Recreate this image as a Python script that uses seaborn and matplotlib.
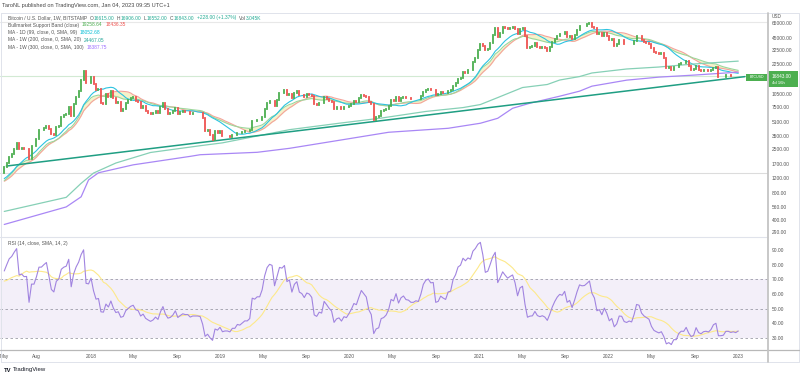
import numpy as np
import pandas as pd
import matplotlib
matplotlib.use("Agg")
import matplotlib.pyplot as plt
from matplotlib.lines import Line2D
from matplotlib.patches import Rectangle
from matplotlib.ticker import NullLocator
import seaborn as sns

# ========== DATA ==========
# weekly closes, BITSTAMP, candles start on Monday
# a few weeks before the visible range, only used to warm up the MAs / RSI
warmup_closes = [770, 775, 790, 890, 1000, 900, 820, 920, 920, 1020, 1000, 1050,
                 1180, 1270, 1240, 1020, 970, 1100, 1200, 1180, 1250, 1350]
closes_2017 = [1560, 1770, 2050, 2190, 2520, 2950, 2500, 2550, 2500, 2510, 1930, 2750,
               2750, 3220, 4070, 4080, 4350, 4600, 4200, 3700, 3600, 4400, 4600, 5700,
               6000, 6150, 7400, 5900, 8000, 9700, 11250, 15000, 19100, 13900, 13800]
closes_2018 = [16200, 13600, 11600, 11800, 8200, 8100, 10400, 9600, 11400, 9500, 8200,
               8400, 6800, 7000, 8350, 8900, 9400, 9650, 8700, 8500, 7350, 7700, 6800,
               6450, 6150, 6350, 6750, 6350, 7400, 8200, 7000, 6300, 6400, 6700, 7250,
               6250, 6500, 6700, 6600, 6600, 6300, 6400, 6400, 6400, 6350, 5600, 4000,
               4150, 3600, 3200, 4000, 3850, 4050]
closes_2019 = [3500, 3550, 3550, 3450, 3650, 3650, 3850, 3800, 3900, 4000, 4000, 4100,
               5200, 5150, 5300, 5300, 5750, 7000, 8200, 8800, 8750, 7650, 8950, 10850,
               10800, 11450, 10250, 10550, 9500, 10800, 11300, 10300, 10150, 9750, 10400,
               10300, 10000, 8050, 7850, 8300, 8200, 9550, 9200, 8800, 8500, 7050, 7400,
               7500, 7100, 7500, 7400, 7750]
closes_2020 = [8150, 8700, 8600, 9350, 10150, 9900, 9650, 8550, 8050, 5350, 5800, 5900,
               6800, 6900, 7150, 7700, 8900, 8750, 9700, 8750, 9450, 9700, 9350, 9300,
               9100, 9100, 9250, 9200, 9900, 11100, 11700, 11900, 11650, 11700, 10250,
               10350, 10900, 10750, 10650, 11400, 11500, 13000, 13800, 15500, 16000, 18400,
               18200, 19350, 19250, 23800, 26400, 33000]
closes_2021 = [38200, 36000, 32300, 33100, 38900, 48600, 57500, 45200, 51000, 59000, 57300,
               55800, 57900, 59700, 56000, 49000, 56500, 58200, 46400, 34700, 35600, 35800,
               39100, 35600, 34700, 35300, 34300, 31800, 35400, 39900, 43800, 47100, 49300,
               48800, 51800, 46000, 47300, 43200, 48200, 54900, 61500, 61000, 61300, 63300,
               65500, 59700, 57200, 49400, 50100, 46700, 50800, 47300]
closes_2022 = [41800, 43100, 36300, 37900, 42400, 42200, 38400, 37700, 38400, 37800, 41300,
               46800, 46400, 42100, 40400, 39400, 38500, 34100, 31300, 30300, 29500, 29900,
               26600, 20600, 21000, 19300, 20800, 20800, 22600, 23300, 23200, 24300, 21500,
               19500, 19800, 21800, 19400, 18800, 19300, 19400, 19100, 19600, 20600, 20900,
               16300, 16300, 16400, 17100, 17100, 16750, 16850, 16615]
closes_2023 = [16843]

# long MAs (they need history from long before the visible range)
ma200_dates = ["2017-05-01", "2017-10-23", "2017-12-04", "2018-01-08", "2018-03-12",
               "2018-06-18", "2018-11-05", "2019-01-07", "2019-07-15", "2019-12-02",
               "2020-03-30", "2020-08-03", "2020-11-16", "2021-01-04", "2021-02-22",
               "2021-04-05", "2021-05-03", "2021-07-12", "2021-08-16", "2021-10-11",
               "2021-11-15", "2022-02-21", "2022-05-23", "2022-08-29", "2023-01-02"]
ma200_vals = [500, 720, 1035, 1350, 1750, 2300, 2740, 2950, 4150, 4900, 5600, 6650, 7350,
              7950, 9520, 11130, 12350, 13360, 15000, 16400, 18000, 19960, 21000, 22700, 24467]
ma300_dates = ["2017-05-01", "2017-10-23", "2017-12-04", "2017-12-25", "2018-01-22",
               "2018-04-30", "2018-10-08", "2018-11-05", "2019-04-15", "2019-07-15",
               "2019-12-02", "2020-04-20", "2020-10-05", "2021-01-04", "2021-02-22",
               "2021-04-05", "2021-05-24", "2021-08-16", "2021-10-11", "2021-11-15",
               "2022-02-21", "2022-05-23", "2022-08-29", "2023-01-02"]
ma300_vals = [357, 562, 730, 1130, 1360, 1670, 2080, 2170, 2310, 2560, 3150, 3880, 4300,
              4900, 5570, 7220, 8230, 9870, 11240, 12800, 14950, 16170, 17030, 18387]

# drawn trendline (two anchor points)
trend_dates = ["2017-05-07", "2023-01-21"]
trend_prices = [1618, 16380]

price_ticks = [65000, 45000, 32500, 22500, 10500, 7500, 5100, 3500, 2500, 1700, 1200,
               800, 560, 400, 290]
rsi_ticks = [90, 80, 70, 60, 50, 40, 30]
month_ticks = ["2017-05-01", "2017-08-01", "2018-01-01", "2018-05-01", "2018-09-01",
               "2019-01-01", "2019-05-01", "2019-09-01", "2020-01-01", "2020-05-01",
               "2020-09-01", "2021-01-01", "2021-05-01", "2021-09-01", "2022-01-01",
               "2022-05-01", "2022-09-01", "2023-01-01"]
month_labels = ["May", "Aug", "2018", "May", "Sep", "2019", "May", "Sep", "2020", "May",
                "Sep", "2021", "May", "Sep", "2022", "May", "Sep", "2023"]

# ========== PREP ==========
visible = closes_2017 + closes_2018 + closes_2019 + closes_2020 + closes_2021 + closes_2022 + closes_2023
all_closes = warmup_closes + visible
df = pd.DataFrame({
    "date": pd.date_range(end="2023-01-02", periods=len(all_closes), freq="W-MON"),
    "close": np.array(all_closes, dtype=float),
})
df["open"] = df["close"].shift(1)
df["sma20"] = df["close"].rolling(20).mean()
df["ema21"] = df["close"].ewm(span=21, adjust=False).mean()
df["sma99d"] = df["close"].rolling(14).mean()

delta = df["close"].diff()
gain = delta.clip(lower=0).ewm(alpha=1 / 14, adjust=False).mean()
loss = (-delta.clip(upper=0)).ewm(alpha=1 / 14, adjust=False).mean()
df["rsi"] = 100 - 100 / (1 + gain / loss)
df["rsi_ma"] = df["rsi"].rolling(14, min_periods=1).mean()

chart = df.iloc[-len(visible):].reset_index(drop=True)

# ========== FIGURE ==========
sns.set_style("white")
plt.rcParams["font.family"] = ["Liberation Sans", "DejaVu Sans"]

W, H = 800, 378
fig = plt.figure(figsize=(W / 100, H / 100), dpi=100)


def px_rect(x0, y0, x1, y1):
    return [x0 / W, 1 - y1 / H, (x1 - x0) / W, (y1 - y0) / H]


def fline(x0, y0, x1, y1, color, lw):
    fig.add_artist(Line2D([x0 / W, x1 / W], [1 - y0 / H, 1 - y1 / H], color=color, lw=lw))


ax = fig.add_axes(px_rect(0, 13, 768, 237))
ax_rsi = fig.add_axes(px_rect(0, 237, 768, 350), sharex=ax)

UP, DOWN = "#4caf50", "#ef5350"
GRID = "#e0e3eb"
TXT = "#555555"

# ---- main pane ----
ax.set_yscale("log")
ax.axhline(66700, color="#e8e8e8", lw=0.8, zorder=1)
ax.axhline(1360, color="#dcdcdc", lw=0.8, zorder=1)
ax.axhline(16843, color=UP, alpha=0.25, lw=0.8, zorder=1)

ax.fill_between(chart["date"], chart["sma20"], chart["ema21"], color="#f4f1c4", alpha=0.9, lw=0, zorder=2)
sns.lineplot(data=chart, x="date", y="sma20", ax=ax, color="#f4a39c", lw=0.8, zorder=3)
sns.lineplot(data=chart, x="date", y="ema21", ax=ax, color="#9bd79b", lw=0.8, zorder=3)
sns.lineplot(data=chart, x="date", y="sma99d", ax=ax, color="#2cc3e0", lw=0.8, zorder=3)
sns.lineplot(x=pd.to_datetime(ma200_dates), y=ma200_vals, ax=ax, color="#86d0b6", lw=0.9, zorder=3)
sns.lineplot(x=pd.to_datetime(ma300_dates), y=ma300_vals, ax=ax, color="#a987f5", lw=0.9, zorder=3)
sns.lineplot(x=pd.to_datetime(trend_dates), y=trend_prices, ax=ax, color="#1f9e83", lw=1.1, zorder=4)

up = chart["close"] >= chart["open"]
for mask, col in ((up, UP), (~up, DOWN)):
    lc = ax.vlines(chart.loc[mask, "date"], chart.loc[mask, "open"], chart.loc[mask, "close"],
                   color=col, lw=1.3, zorder=5)
    lc.set_capstyle("projecting")

ax.set_xlim(pd.Timestamp("2017-04-19"), pd.Timestamp("2023-03-27"))
ax.set_ylim(258, 85000)
ax.yaxis.tick_right()
ax.set_yticks(price_ticks)
ax.set_yticklabels([f"{v:.2f}" for v in price_ticks])
ax.yaxis.set_minor_locator(NullLocator())
ax.tick_params(axis="y", length=0, pad=2.9, labelsize=3.5, labelcolor=TXT)
ax.tick_params(axis="x", length=0, labelbottom=False)
ax.set_xlabel("")
ax.set_ylabel("")
for s in ax.spines.values():
    s.set_visible(False)

# ---- RSI pane ----
ax_rsi.axhspan(30, 70, color="#7e57c2", alpha=0.09, lw=0)
for lvl in (70, 50, 30):
    ax_rsi.axhline(lvl, color="#9c9ca8", lw=0.6, ls=(0, (3, 3)))
sns.lineplot(data=chart, x="date", y="rsi_ma", ax=ax_rsi, color="#fde98a", lw=0.8)
sns.lineplot(data=chart, x="date", y="rsi", ax=ax_rsi, color="#a184e0", lw=0.8)
ax_rsi.set_ylim(21.8, 98.9)
ax_rsi.yaxis.tick_right()
ax_rsi.set_yticks(rsi_ticks)
ax_rsi.set_yticklabels([f"{v:.2f}" for v in rsi_ticks])
ax_rsi.tick_params(axis="y", length=0, pad=2.9, labelsize=3.5, labelcolor=TXT)
ax_rsi.set_xticks(pd.to_datetime(month_ticks))
ax_rsi.set_xticklabels(month_labels)
ax_rsi.tick_params(axis="x", length=0, pad=2.6, labelsize=3.5, labelcolor=TXT)
ax_rsi.set_xlim(pd.Timestamp("2017-04-19"), pd.Timestamp("2023-03-27"))
ax_rsi.set_xlabel("")
ax_rsi.set_ylabel("")
for s in ax_rsi.spines.values():
    s.set_visible(False)

# ---- frame ----
fline(1, 13, 799, 13, GRID, 0.7)
fline(1, 13, 1, 362, GRID, 0.7)
fline(799, 13, 799, 362, GRID, 0.7)
fline(1, 362, 799, 362, GRID, 0.7)
fline(0, 237, 768, 237, GRID, 0.8)
fline(0, 350, 800, 350, "#b8b8b8", 0.9)
fline(768, 13, 768, 362, "#c4c4c4", 1.3)

# ---- price tags ----
fig.add_artist(Rectangle((746 / W, 1 - 80.5 / H), 21 / W, 7 / H, transform=fig.transFigure,
                         color=UP, lw=0))
fig.text(756.5 / W, 1 - 77 / H, "BTCUSD", color="white", fontsize=2.6, ha="center", va="center")
fig.add_artist(Rectangle((768 / W, 1 - 87 / H), 30 / W, 15.5 / H, transform=fig.transFigure,
                         color=UP, lw=0))
fig.text(772 / W, 1 - 76.5 / H, "16843.00", color="white", fontsize=3.4, ha="left", va="center")
fig.text(772 / W, 1 - 82.5 / H, "4d 16h", color="white", fontsize=3.1, ha="left", va="center")
fig.text(772 / W, 1 - 17 / H, "USD", color=TXT, fontsize=3.4, ha="left", va="center")


# ---- legend texts ----
def rich(x, y, pieces, size=3.5):
    t = fig.text(x / W, 1 - y / H, pieces[0][0], color=pieces[0][1], fontsize=size,
                 ha="left", va="center")
    for s, c, gap in pieces[1:]:
        t = ax.annotate(s, xy=(1, 0.5), xycoords=t, xytext=(gap, 0), textcoords="offset points",
                        color=c, fontsize=size, ha="left", va="center", annotation_clip=False)


fig.text(2 / W, 1 - 5 / H, "TaroNL published on TradingView.com, Jan 04, 2023 09:35 UTC+1",
         color="#444444", fontsize=4.1, ha="left", va="center")
VAL = "#22ab94"
rich(8, 18, [("Bitcoin / U.S. Dollar, 1W, BITSTAMP", TXT),
             ("O", TXT, 2.0), ("16615.00", VAL, 0), ("H", TXT, 2.0), ("16906.00", VAL, 0),
             ("L", TXT, 2.0), ("16552.00", VAL, 0), ("C", TXT, 2.0), ("16843.00", VAL, 0),
             ("+228.00 (+1.37%)", VAL, 2.0), ("Vol", TXT, 2.0), ("3.045K", VAL, 0)])
rich(8, 25, [("Bullmarket Support Band (close)", TXT), ("19258.64", "#4caf50", 2.0),
             ("18436.35", "#ef5350", 2.0)])
rich(8, 32.5, [("MA - 1D (99, close, 0, SMA, 99)", TXT), ("18052.68", "#00bcd4", 2.0)])
rich(8, 40, [("MA - 1W (200, close, 0, SMA, 20)", TXT), ("24467.05", "#26a69a", 2.0)])
rich(8, 47.5, [("MA - 1W (300, close, 0, SMA, 100)", TXT), ("18387.75", "#9c6cff", 2.0)])
rich(8, 244, [("RSI (14, close, SMA, 14, 2)", TXT), ("34.78", "#7e57c2", 2.0),
              ("34.60", "#e6c820", 2.0), ("Ø  Ø", TXT, 2.0)])

fig.text(4 / W, 1 - 370 / H, "TV", color="#131722", fontsize=4.2, fontweight="bold",
         ha="left", va="center")
fig.text(13 / W, 1 - 370 / H, "TradingView", color="#131722", fontsize=4.3,
         ha="left", va="center")

fig.savefig("out.png", dpi=100)
